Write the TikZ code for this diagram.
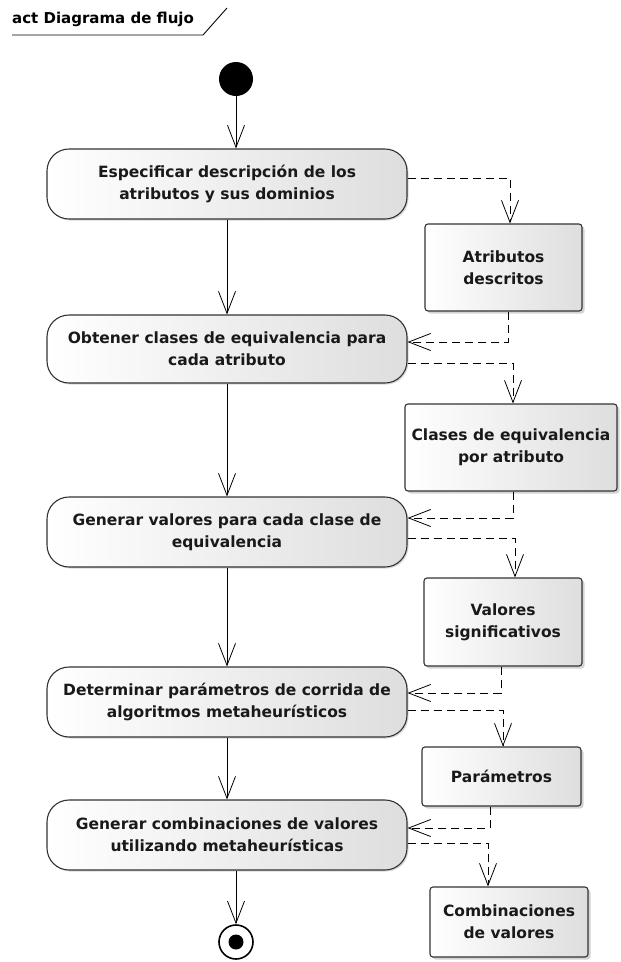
\documentclass[tikz,border=0pt]{standalone}
\usepackage{fontspec}
\setmainfont{DejaVu Sans}
\usepackage{tikz}
\usetikzlibrary{arrows.meta}
\usetikzlibrary{shadows}
\usetikzlibrary{calc}

\tikzset{
  txt/.style={font=\bfseries\fontsize{15.5}{22}\selectfont, text=black!90},
  activity/.style={txt, draw=black!80, line width=1.1pt, rounded corners=22pt,
    minimum width=360pt, minimum height=70pt, align=center,
    left color=white, right color=black!13,
    drop shadow={shadow xshift=1.5pt, shadow yshift=-1.5pt, opacity=0.3}},
  object/.style={txt, draw=black!80, line width=1.1pt, rounded corners=3pt,
    align=center, inner sep=0pt, left color=white, right color=black!13,
    drop shadow={shadow xshift=2.5pt, shadow yshift=-2.5pt, opacity=0.35}},
  flow/.style={line width=0.8pt, -{Straight Barb[length=22pt, width=17pt, line width=0.8pt]}},
  objflow/.style={flow, dash pattern=on 8pt off 5pt},
}

\begin{document}
\begin{tikzpicture}[x=1pt, y=-1pt]
\useasboundingbox (0,0) rectangle (621,962);

% frame tab
\node[anchor=west, inner sep=1pt, font=\bfseries\fontsize{15}{17}\selectfont] (frame) at (11,19) {act Diagrama de flujo};
\draw[line width=0.9pt] (12,35) -- (203,35) -- (227,8);

% initial / final
\node[circle, fill=black, minimum size=34pt, inner sep=0pt] (start) at (236,79) {};
\node[circle, draw=black, fill=white, line width=1.6pt, minimum size=34pt, inner sep=0pt,
  path picture={\fill[black] (path picture bounding box.center) circle (7.5pt);}] (end) at (236,942) {};

% activities
\node[activity] (act1) at (227,184) {Especificar descripción de los\\atributos y sus dominios};
\node[activity, minimum height=68pt] (act2) at (227,349) {Obtener clases de equivalencia para\\cada atributo};
\node[activity] (act3) at (227,532) {Generar valores para cada clase de\\equivalencia};
\node[activity] (act4) at (227,702) {Determinar parámetros de corrida de\\algoritmos metaheurísticos};
\node[activity] (act5) at (227,835) {Generar combinaciones de valores\\utilizando metaheurísticas};

% objects
\node[object, minimum width=157pt, minimum height=87pt] (obj1) at (503.5,267.5) {Atributos\\descritos};
\node[object, minimum width=212pt, minimum height=87pt] (obj2) at (511,447.5) {Clases de equivalencia\\por atributo};
\node[object, minimum width=158pt, minimum height=88pt] (obj3) at (503,622) {Valores\\significativos};
\node[object, minimum width=159pt, minimum height=59pt] (obj4) at (501.5,776.5) {Parámetros};
\node[object, minimum width=158pt, minimum height=70pt] (obj5) at (509,922) {Combinaciones\\de valores};

% control flow
\draw[flow] (start) -- (act1.north -| start);
\draw[flow] (act1) -- (act2);
\draw[flow] (act2) -- (act3);
\draw[flow] (act3) -- (act4);
\draw[flow] (act4) -- (act5);
\draw[flow] (act5.south -| end) -- (end);

% object flow
\draw[objflow] ([yshift=6pt]act1.east) -| ([xshift=6.5pt]obj1.north);
\draw[objflow] ([xshift=4.5pt]obj1.south) |- ([yshift=7pt]act2.east);
\draw[objflow] ([yshift=-14pt]act2.east) -| ([xshift=2pt]obj2.north);
\draw[objflow] ([xshift=2pt]obj2.south) |- ([yshift=14pt]act3.east);
\draw[objflow] ([yshift=-6pt]act3.east) -| ([xshift=12pt]obj3.north);
\draw[objflow] ([xshift=-2pt]obj3.south) |- ([yshift=9pt]act4.east);
\draw[objflow] ([yshift=-8pt]act4.east) -| ([xshift=1.5pt]obj4.north);
\draw[objflow] ([xshift=-11.5pt]obj4.south) |- ([yshift=7pt]act5.east);
\draw[objflow] ([yshift=-8pt]act5.east) -| ([xshift=-21pt]obj5.north);

\end{tikzpicture}
\end{document}
